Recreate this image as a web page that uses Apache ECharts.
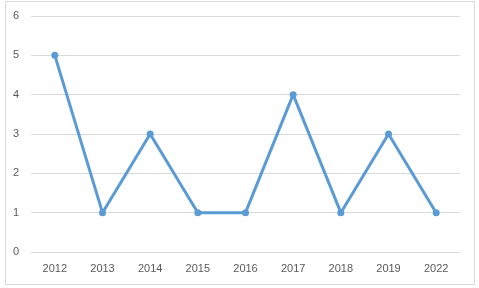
<!DOCTYPE html>
<html><head><meta charset="utf-8">
<script src="https://cdn.jsdelivr.net/npm/echarts@6/dist/echarts.min.js"></script>
<style>html,body{margin:0;padding:0;background:#fff}#c{width:479px;height:288px}</style>
</head><body><div id="c"></div>
<script>
const categories = ['2012','2013','2014','2015','2016','2017','2018','2019','2022'];
const values = [5,1,3,1,1,4,1,3,1];
const yTicks = {min:0, max:6, interval:1};
const chart = echarts.init(document.getElementById('c'), null, {renderer:'canvas'});
chart.setOption({
  animation:false,
  graphic:[{type:'rect',shape:{x:5.5,y:1.5,width:469,height:283},style:{fill:'none',stroke:'#d9d9d9',lineWidth:1}}],
  grid:{left:31,right:19,top:16,bottom:36,containLabel:false},
  xAxis:{type:'category',data:categories,boundaryGap:true,
    axisLine:{show:true,lineStyle:{color:'#d9d9d9'}},axisTick:{show:false},
    axisLabel:{color:'#595959',fontSize:11,fontFamily:'Liberation Sans, Arial',margin:11}},
  yAxis:{type:'value',min:yTicks.min,max:yTicks.max,interval:yTicks.interval,
    axisLine:{show:false},axisTick:{show:false},
    splitLine:{lineStyle:{color:'#d9d9d9'}},
    axisLabel:{color:'#595959',fontSize:11,fontFamily:'Liberation Sans, Arial',margin:12}},
  series:[{type:'line',data:values,symbol:'circle',symbolSize:7,
    lineStyle:{color:'#5b9bd5',width:3},itemStyle:{color:'#5b9bd5'}}]
});
</script></body></html>
